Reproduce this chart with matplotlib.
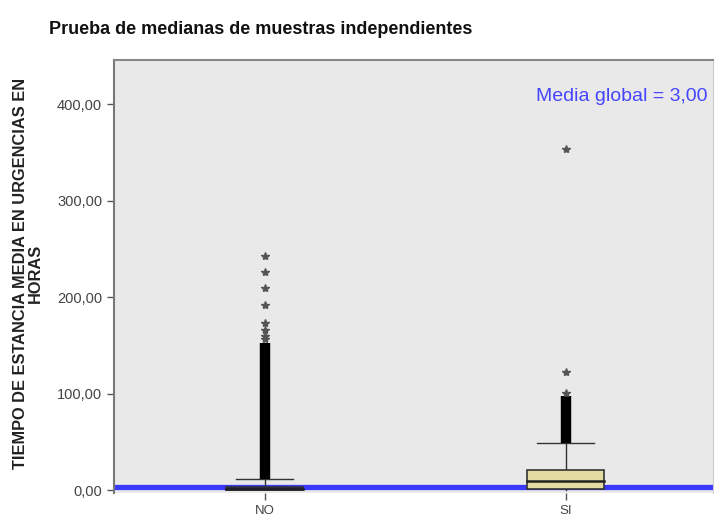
import matplotlib
matplotlib.use("Agg")
import matplotlib.pyplot as plt
from matplotlib.patches import Rectangle

plt.rcParams['font.family'] = ['Liberation Sans', 'DejaVu Sans']

# ---- data ----
categories = ["NO", "SI"]
q1 = [0.0, 1.5]
medians = [1.5, 9.0]
q3 = [3.5, 21.0]
whisker_low = [0.0, 0.0]
whisker_high = [11.5, 48.5]
# dense runs of outliers (from, to)
dense_runs = [(11.5, 152.0), (48.5, 97.0)]
# isolated outliers / extremes
outliers_no = [156.0, 160.0, 166.0, 173.0, 192.0, 209.0, 226.0, 243.0]
outliers_si = [101.0, 122.0, 353.0]
global_median = 3.0
yticks = [0, 100, 200, 300, 400]
ytick_labels = ["0,00", "100,00", "200,00", "300,00", "400,00"]

title = "Prueba de medianas de muestras independientes"
ylabel = "TIEMPO DE ESTANCIA MEDIA EN URGENCIAS EN\nHORAS"
annot = "Media global = 3,00"

box_colors = ["#1a1a66", "#e3dba2"]

fig = plt.figure(figsize=(7.15, 5.2), dpi=100)
ax = fig.add_axes([114/715, 1-493/520, (713-114)/715, (493-60)/520])
ax.set_facecolor("#e9e9e9")
ax.set_xlim(-0.5, 1.49)
ax.set_ylim(-3.1, 445.6)

# global median line
ax.axhline(global_median, color="#3a3aff", lw=3.8, zorder=2)

w = 0.257
cap = 0.19
for i in range(len(categories)):
    # whiskers
    ax.plot([i, i], [q3[i], whisker_high[i]], color="#333333", lw=1.0, zorder=3)
    ax.plot([i, i], [whisker_low[i], q1[i]], color="#333333", lw=1.0, zorder=3)
    ax.plot([i - cap/2, i + cap/2], [whisker_high[i]]*2, color="#333333", lw=1.0, zorder=3)
    # box
    ax.add_patch(Rectangle((i - w/2, q1[i]), w, q3[i]-q1[i], facecolor=box_colors[i],
                           edgecolor="#333333", lw=1.2, zorder=4))
    ax.plot([i - w/2, i + w/2], [medians[i]]*2, color="#222222", lw=1.8, zorder=5)
    # dense outliers
    lo, hi = dense_runs[i]
    ax.plot([i, i], [lo, hi], color="black", lw=7.5, solid_capstyle="butt", zorder=5)

ax.plot([0]*len(outliers_no), outliers_no, ls="none", marker="*", ms=6,
        color="#555555", mec="#555555", zorder=6)
ax.plot([1]*len(outliers_si), outliers_si, ls="none", marker="*", ms=6,
        color="#555555", mec="#555555", zorder=6)

ax.set_xticks(range(len(categories)))
ax.set_xticklabels(categories)
ax.set_yticks(yticks)
ax.set_yticklabels(ytick_labels)
ax.tick_params(axis="both", colors="#555555", labelcolor="#444444", labelsize=10.5,
               length=5, width=1, direction="out")
ax.tick_params(axis="x", labelsize=9.5)
for s in ["left", "bottom"]:
    ax.spines[s].set_color("#777777")
    ax.spines[s].set_linewidth(1.5)
ax.spines["top"].set_color("#888888")
ax.spines["top"].set_linewidth(1.5)
ax.spines["right"].set_color("#cccccc")
ax.spines["bottom"].set_visible(False)

ax.text(0.99, 0.915, annot, transform=ax.transAxes, ha="right", va="center",
        color="#4545ff", fontsize=14)

fig.text(261/715, 1-30/520, title, ha="center", va="center", fontsize=13,
         fontweight="bold", color="#111111")
fig.text(28/715, 1-273/520, ylabel, rotation=90, ha="center", va="center",
         fontsize=11.8, fontweight="bold", color="#222222", linespacing=0.95)

fig.savefig("out.png", dpi=100)
